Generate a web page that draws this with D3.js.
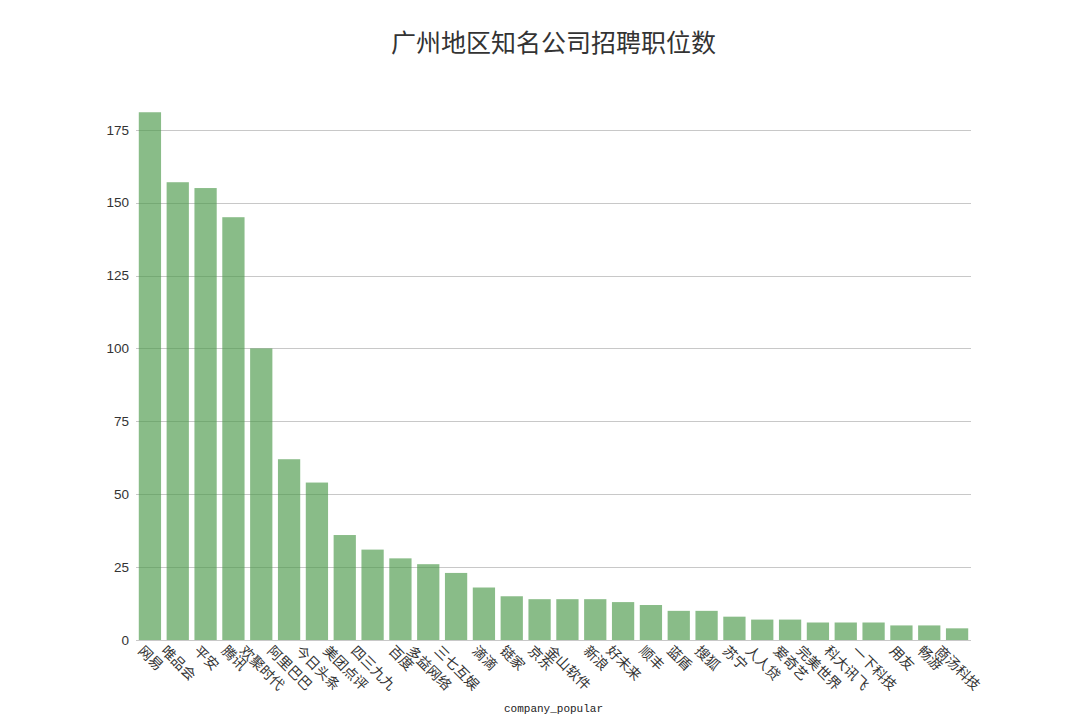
<!DOCTYPE html>
<html>
<head>
<meta charset="utf-8">
<script src="https://cdn.jsdelivr.net/npm/d3@7"></script>
<style>
  body { margin: 0; background: #fff; }
</style>
</head>
<body>
<div id="wrapper"></div>
<script>
// data
const companies = ["网易", "唯品会", "平安", "腾讯", "欢聚时代", "阿里巴巴", "今日头条", "美团点评",
  "四三九九", "百度", "多益网络", "三七互娱", "滴滴", "链家", "京东", "金山软件", "新浪", "好未来",
  "顺丰", "蓝盾", "搜狐", "苏宁", "人人贷", "爱奇艺", "完美世界", "科大讯飞", "一下科技", "用友",
  "畅游", "商汤科技"]
const jobCounts = [181, 157, 155, 145, 100, 62, 54, 36, 31, 28, 26, 23, 18, 15, 14, 14, 14, 13,
  12, 10, 10, 8, 7, 7, 6, 6, 6, 5, 5, 4]
const yTicks = [0, 25, 50, 75, 100, 125, 150, 175]

const titleText = "广州地区知名公司招聘职位数"
const xLabelText = "company_popular"

function drawBarChart() {
    let dimensions = {
        width: 1080,
        height: 720,
        margin: { top: 86, right: 109, bottom: 80, left: 136 },
    }
    dimensions.boundedWidth = dimensions.width - dimensions.margin.left - dimensions.margin.right
    dimensions.boundedHeight = dimensions.height - dimensions.margin.top - dimensions.margin.bottom

    const svg = d3.select("#wrapper")
        .append("svg")
            .attr("width", dimensions.width)
            .attr("height", dimensions.height)
            .style("font-family", "'Noto Sans CJK SC', 'Liberation Sans', sans-serif")

    const bounds = svg.append("g")
        .attr("transform", `translate(${dimensions.margin.left},${dimensions.margin.top})`)

    // scales
    const xScale = d3.scaleBand()
        .domain(companies)
        .range([0, dimensions.boundedWidth])
        .paddingInner(0.2)
        .paddingOuter(0.1)

    const yScale = d3.scaleLinear()
        .domain([0, 190])
        .range([dimensions.boundedHeight, 0])

    // gridlines first, bars are a bit transparent on top of them
    bounds.append("g")
        .selectAll("line")
        .data(yTicks)
        .join("line")
            .attr("x1", 0)
            .attr("x2", dimensions.boundedWidth)
            .attr("y1", d => Math.round(yScale(d)) + 0.5)
            .attr("y2", d => Math.round(yScale(d)) + 0.5)
            .attr("stroke", "#c8c8c8")
            .attr("stroke-width", 1)

    bounds.append("g")
        .selectAll("rect")
        .data(jobCounts)
        .join("rect")
            .attr("x", (d, i) => xScale(companies[i]))
            .attr("width", xScale.bandwidth())
            .attr("y", d => yScale(d))
            .attr("height", d => dimensions.boundedHeight - yScale(d))
            .attr("fill", "#4c9a4a")
            .attr("fill-opacity", 0.66)

    // y axis, no domain line
    const yAxis = bounds.append("g")
        .call(d3.axisLeft(yScale).tickValues(yTicks).tickSize(0).tickPadding(7))
    yAxis.select(".domain").remove()
    yAxis.selectAll("text")
        .attr("font-family", "'Liberation Sans', sans-serif")
        .attr("font-size", 13.5)
        .attr("fill", "#333")

    // x tick labels rotated 45deg, rotated box centred under each bar
    const labelSize = 14
    const xLabels = bounds.append("g")
        .selectAll("text")
        .data(companies)
        .join("text")
            .text(d => d)
            .attr("font-size", labelSize)
            .attr("fill", "#333")
            .attr("dominant-baseline", "middle")
    const s = Math.SQRT1_2 / 2
    xLabels.attr("transform", function(d) {
        const len = this.getComputedTextLength()
        const cx = xScale(d) + xScale.bandwidth() / 2
        const top = dimensions.boundedHeight + 4
        return `translate(${cx - s * len},${top + s * labelSize}) rotate(45)`
    })

    // axis title
    svg.append("text")
        .attr("x", dimensions.margin.left + dimensions.boundedWidth / 2)
        .attr("y", 712)
        .attr("text-anchor", "middle")
        .attr("font-family", "'Liberation Mono', 'DejaVu Sans Mono', monospace")
        .attr("font-size", 11)
        .attr("fill", "#222")
        .text(xLabelText)

    // chart title
    svg.append("text")
        .attr("x", dimensions.margin.left + dimensions.boundedWidth / 2)
        .attr("y", 52)
        .attr("text-anchor", "middle")
        .attr("font-size", 25)
        .attr("fill", "#333")
        .text(titleText)
}

drawBarChart()
</script>
</body>
</html>
